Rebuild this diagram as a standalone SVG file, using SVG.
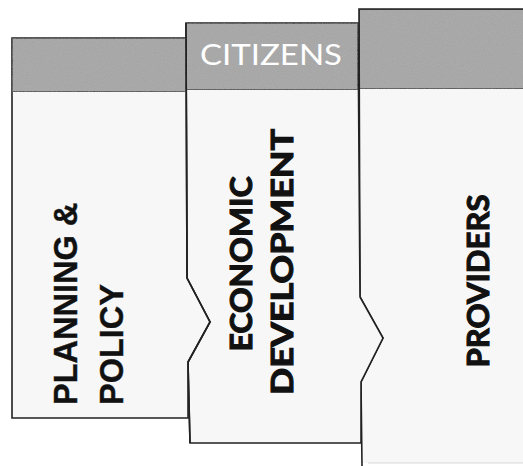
<svg xmlns="http://www.w3.org/2000/svg" width="523" height="466" viewBox="0 0 523 466">
  <defs>
    <filter id="grain" x="0" y="0" width="100%" height="100%">
      <feTurbulence type="fractalNoise" baseFrequency="0.9" numOctaves="2" seed="3" result="n"/>
      <feColorMatrix in="n" type="matrix" values="0 0 0 0 0.55  0 0 0 0 0.55  0 0 0 0 0.55  0 0 0 0.35 0" result="g"/>
      <feComposite in="g" in2="SourceGraphic" operator="in" result="gm"/>
      <feMerge><feMergeNode in="SourceGraphic"/><feMergeNode in="gm"/></feMerge>
    </filter>
  </defs>
  <style>
    .body { fill: #f7f7f7; stroke: #222; stroke-width: 1.6; stroke-linejoin: miter; }
    .head { fill: #a2a2a2; stroke: #222; stroke-width: 1.6; }
    .lbl { font-family: "Liberation Sans", Arial, sans-serif; font-weight: bold; font-size: 32.5px; fill: #111; stroke: #111; stroke-width: 0.4; }
    .lbl2 { font-family: Lato, "Open Sans", sans-serif; font-weight: bold; font-size: 30px; fill: #111; stroke: #111; stroke-width: 1.1; text-anchor: middle; }
    .hdr { font-family: Lato, "Open Sans", sans-serif; font-size: 29px; fill: #fff; text-anchor: middle; }
  </style>
  <rect width="523" height="466" fill="#fff"/>

  <g id="providers">
    <path d="M359,9 H530 V463 H362 L361,382 L383,338 L360,297 Z" fill="#f7f7f7" stroke="none"/>
    <rect class="head" x="359" y="9" width="175" height="80" filter="url(#grain)"/>
    <path d="M362,466 L361,382 L383,338 L360,297 L359,9 H530" fill="none" stroke="#222" stroke-width="1.6"/>
    <path d="M368,463 H523" fill="none" stroke="#d8d8d8" stroke-width="1.2"/>
    <text class="lbl2" transform="translate(489,281) rotate(-90)" textLength="173" lengthAdjust="spacingAndGlyphs">PROVIDERS</text>
  </g>

  <g id="citizens-economic-development">
    <path class="body" d="M186,23 H358 L360,297 L383,338 L361,382 L361,443 H190 L188,362 L210,322 L187,278 Z"/>
    <rect class="head" x="186" y="23" width="172" height="67" filter="url(#grain)"/>
    <text class="hdr" x="271" y="65" textLength="142" lengthAdjust="spacingAndGlyphs">CITIZENS</text>
    <text class="lbl2" transform="translate(252,264) rotate(-90)" textLength="175" lengthAdjust="spacingAndGlyphs">ECONOMIC</text>
    <text class="lbl2" transform="translate(293,262) rotate(-90)" textLength="266" lengthAdjust="spacingAndGlyphs">DEVELOPMENT</text>
  </g>

  <g id="planning-policy">
    <path class="body" d="M12,38 H186 L187,278 L210,322 L188,362 L188,418 H12 Z"/>
    <rect class="head" x="12" y="38" width="174" height="54" filter="url(#grain)"/>
    <path d="M186,23 L187,278 L210,322 L188,362 L190,443" fill="none" stroke="#222" stroke-width="1.6"/>
    <text class="lbl" transform="translate(77,405) rotate(-90)">PLANNING &amp;</text>
    <text class="lbl" transform="translate(123,405) rotate(-90)">POLICY</text>
  </g>
</svg>
